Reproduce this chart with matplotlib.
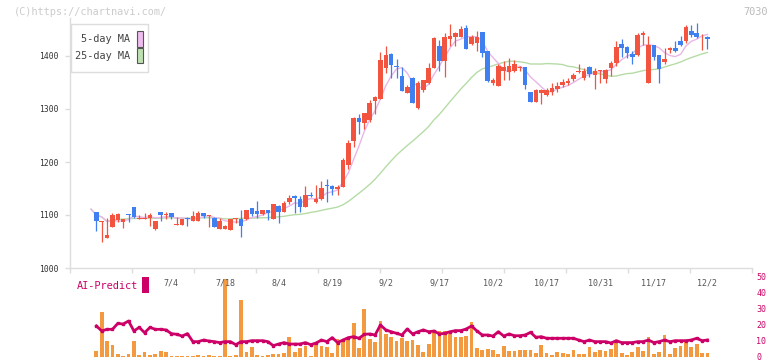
import numpy as np
import pandas as pd
import matplotlib
matplotlib.use("Agg")
import matplotlib.pyplot as plt
from matplotlib.patches import Rectangle

# ---- data (daily candles, 6/13 .. 12/2) ----
opens = [1111, 1106, 1086, 1057, 1078, 1091, 1087, 1101, 1115, 1093,
         1093, 1094, 1074, 1106, 1100, 1104, 1082, 1082, 1095, 1089,
         1089, 1104, 1098, 1095, 1073, 1073, 1072, 1093, 1093, 1092,
         1113, 1107, 1102, 1109, 1093, 1117, 1106, 1124, 1136, 1131,
         1116, 1138, 1125, 1131, 1157, 1155, 1150, 1153, 1194, 1240,
         1283, 1273, 1279, 1315, 1319, 1377, 1404, 1381, 1363, 1331,
         1358, 1302, 1335, 1349, 1377, 1419, 1390, 1432, 1436, 1436,
         1453, 1422, 1425, 1445, 1409, 1349, 1343, 1372, 1369, 1371,
         1377, 1379, 1332, 1313, 1330, 1326, 1332, 1338, 1346, 1349,
         1357, 1370, 1358, 1380, 1364, 1372, 1357, 1377, 1387, 1423,
         1417, 1404, 1402, 1440, 1349, 1420, 1401, 1389, 1412, 1415,
         1429, 1428, 1448, 1443, 1439, 1436]
highs = [1111, 1106, 1089, 1095, 1103, 1104, 1093, 1101, 1115, 1100,
         1104, 1103, 1089, 1106, 1106, 1104, 1097, 1093, 1096, 1107,
         1108, 1104, 1100, 1096, 1094, 1081, 1093, 1095, 1109, 1110,
         1113, 1126, 1110, 1110, 1120, 1118, 1126, 1138, 1137, 1135,
         1155, 1143, 1157, 1165, 1168, 1157, 1157, 1207, 1241, 1285,
         1290, 1292, 1317, 1325, 1408, 1418, 1406, 1394, 1380, 1345,
         1360, 1352, 1355, 1387, 1436, 1431, 1443, 1460, 1446, 1457,
         1458, 1440, 1447, 1446, 1410, 1358, 1384, 1390, 1396, 1393,
         1382, 1380, 1333, 1337, 1338, 1339, 1349, 1351, 1357, 1359,
         1368, 1385, 1377, 1381, 1377, 1374, 1375, 1390, 1428, 1432,
         1418, 1409, 1443, 1447, 1438, 1421, 1402, 1416, 1417, 1428,
         1437, 1459, 1459, 1462, 1441, 1437]
lows = [1111, 1070, 1050, 1057, 1078, 1087, 1076, 1087, 1094, 1092,
        1092, 1079, 1071, 1089, 1092, 1092, 1082, 1082, 1080, 1089,
        1088, 1094, 1078, 1077, 1073, 1073, 1072, 1084, 1059, 1090,
        1098, 1095, 1100, 1090, 1093, 1084, 1106, 1121, 1104, 1106,
        1116, 1134, 1122, 1128, 1125, 1138, 1137, 1153, 1186, 1229,
        1252, 1263, 1276, 1290, 1319, 1367, 1359, 1359, 1334, 1331,
        1311, 1300, 1333, 1347, 1377, 1372, 1360, 1418, 1418, 1436,
        1413, 1420, 1409, 1399, 1350, 1346, 1343, 1355, 1355, 1370,
        1372, 1338, 1313, 1313, 1309, 1325, 1327, 1333, 1342, 1346,
        1352, 1368, 1355, 1360, 1338, 1349, 1349, 1362, 1382, 1398,
        1396, 1385, 1400, 1420, 1349, 1392, 1349, 1384, 1406, 1407,
        1418, 1424, 1436, 1434, 1412, 1414]
closes = [1111, 1089, 1089, 1062, 1100, 1102, 1092, 1100, 1096, 1094,
          1094, 1100, 1089, 1100, 1101, 1096, 1083, 1092, 1093, 1098,
          1103, 1099, 1099, 1078, 1089, 1080, 1092, 1094, 1079, 1109,
          1102, 1101, 1109, 1103, 1120, 1106, 1123, 1132, 1133, 1116,
          1138, 1135, 1130, 1151, 1154, 1149, 1153, 1204, 1236, 1283,
          1276, 1292, 1312, 1322, 1392, 1402, 1383, 1379, 1334, 1341,
          1312, 1349, 1355, 1377, 1434, 1390, 1436, 1438, 1444, 1451,
          1414, 1436, 1436, 1406, 1352, 1355, 1381, 1379, 1381, 1384,
          1379, 1345, 1313, 1336, 1336, 1336, 1340, 1343, 1350, 1353,
          1364, 1371, 1371, 1366, 1371, 1373, 1374, 1386, 1417, 1415,
          1406, 1398, 1440, 1443, 1420, 1398, 1376, 1395, 1416, 1409,
          1420, 1455, 1439, 1436, 1440, 1433]

volume = [0, 4, 28, 10, 7.5, 1.9, 0.6, 1.9, 10, 1.3,
          3.1, 1.3, 1.9, 3.8, 3.1, 0.6, 0.5, 0.5, 0.5, 0.6,
          1.3, 0.5, 1.3, 0.5, 0.6, 49, 0.6, 1.3, 35.6, 3.1,
          6.3, 1.3, 0.6, 1.3, 1.9, 1.9, 2.5, 12.5, 3.1, 5.6,
          6.9, 0.6, 7.2, 6.9, 6.3, 2.5, 11.3, 10, 10.6, 21.5,
          5.6, 30, 11.3, 9.4, 22.5, 14.4, 12.5, 10, 11.9, 10,
          10.6, 7.5, 3.1, 8.1, 16.3, 16.3, 16.3, 14.4, 12.5, 12.5,
          13.1, 21.9, 5.6, 4.4, 5, 4.4, 1.9, 6.9, 3.8, 3.8,
          4.4, 4.4, 4.4, 2.5, 7.5, 2.5, 1.3, 3.1, 2.6, 1.9,
          4.4, 1.9, 1.9, 6.3, 3.1, 4.4, 3.8, 5, 8.8, 2.5,
          1.3, 3.1, 6.3, 3.8, 12.5, 1.9, 3.1, 13.8, 1.9, 5.6,
          6.9, 10, 6.3, 8.1, 2.5, 2.5]

ai_predict = [np.nan, 19.4, 16.3, 17.3, 17.3, 21, 20.6, 22.5, 16.3, 18.5,
              15.2, 18.5, 17.3, 17.3, 16.9, 14.6, 14.2, 13.1, 14.6, 9.6,
              9.6, 10.6, 10, 9.6, 9, 9.6, 9.6, 7.7, 9.6, 9.6,
              10.2, 10.2, 10.2, 9.6, 7.1, 8.1, 9, 8.1, 8.1, 8.1,
              9, 7.7, 8.75, 10.6, 9.6, 12.1, 9, 10.6, 12.1, 12.7,
              11.7, 14.2, 14.4, 13.75, 20, 16.9, 15.8, 14.8, 13.75, 17.5,
              14.4, 15.8, 16.9, 15.8, 16.25, 14.4, 14.8, 15.8, 16.5, 16.5,
              17.5, 19.4, 16.25, 13.75, 13.75, 13.1, 15.8, 13.1, 14.4, 13.3,
              13.3, 13.75, 15.4, 12.3, 12.7, 11.7, 11.7, 11.7, 11.7, 11.7,
              11.7, 10.6, 9.6, 10.6, 9.6, 9.6, 9.6, 8.75, 10.2, 9,
              9, 9, 9.6, 9.6, 10.6, 9, 9.6, 10.6, 9.6, 10.2,
              10.2, 10.2, 10.6, 11.7, 10.2, 10.6]

date_idx = [15, 25, 35, 45, 55, 65, 75, 85, 95, 105, 115]
date_labels = ["7/4", "7/18", "8/4", "8/19", "9/2", "9/17",
               "10/2", "10/17", "10/31", "11/17", "12/2"]
price_ticks = [1000, 1100, 1200, 1300, 1400]
ai_ticks = [0, 10, 20, 30, 40, 50]

# ---- styling ----
W, H = 772, 361
RED = '#f25440'
BLUE = '#3f7ff0'
ORANGE = '#f39a40'
MAGENTA = '#cc0066'
MA5_C = '#e8b6e8'
MA25_C = '#b6dca6'
GRID = '#dddddd'
MONO = 'DejaVu Sans Mono'

o = np.array(opens, float)
h = np.array(highs, float)
l = np.array(lows, float)
c = np.array(closes, float)
x = np.arange(len(c))
ma5 = pd.Series(c).rolling(5, min_periods=1).mean()
ma25 = pd.Series(c).rolling(25, min_periods=1).mean()

def fx(px):
    return px / W

def fy(py):
    return 1 - py / H

fig = plt.figure(figsize=(W / 100, H / 100), dpi=100, facecolor='white')

# main price chart
ax = fig.add_axes([fx(70), fy(268), 682 / W, 250 / H])
xlim = ((70 - 91) / 5.36, (752 - 91) / 5.36)
ax.set_xlim(*xlim)
ax.set_ylim(1000, 1000 + 250 / 0.53)

ax.plot(x, ma25, color=MA25_C, lw=1.0, zorder=1)
ax.plot(x, ma5, color=MA5_C, lw=1.0, zorder=1)

up = c >= o
cols = np.where(up, RED, BLUE)
ax.vlines(x, l, h, colors=cols, lw=0.9, zorder=2)
body = np.maximum(np.abs(c - o), 1.2)
ax.bar(x, body, bottom=np.minimum(o, c), width=0.85, color=cols, zorder=3)

for s in ['top', 'right']:
    ax.spines[s].set_visible(False)
for s in ['left', 'bottom']:
    ax.spines[s].set_color(GRID)
    ax.spines[s].set_linewidth(1.0)
ax.set_yticks(price_ticks)
ax.set_yticklabels([str(v) for v in price_ticks], fontsize=5.8, color='#333333', family=MONO)
ax.set_xticks(np.linspace(xlim[0], xlim[1], 12))
ax.set_xticklabels([])
ax.tick_params(axis='y', length=3.6, width=1, color=GRID, pad=4.3)
ax.tick_params(axis='x', length=3.6, width=1, color=GRID)

# legend box
fig.add_artist(Rectangle((fx(70.7), fy(71.7)), 77.6 / W, 47.7 / H, transform=fig.transFigure,
                         facecolor='white', edgecolor=GRID, lw=1, zorder=10))
fig.add_artist(Rectangle((fx(136.7), fy(46.7)), 6 / W, 15.7 / H, transform=fig.transFigure,
                         facecolor='#eebcee', edgecolor='#555555', lw=0.8, zorder=11))
fig.add_artist(Rectangle((fx(136.7), fy(63.3)), 6 / W, 15 / H, transform=fig.transFigure,
                         facecolor='#bfe0b2', edgecolor='#555555', lw=0.8, zorder=11))
fig.text(fx(130), fy(39), "5-day MA", ha='right', va='center', fontsize=7.4,
         family=MONO, color='#444444', zorder=12)
fig.text(fx(130), fy(56), "25-day MA", ha='right', va='center', fontsize=7.4,
         family=MONO, color='#444444', zorder=12)

# volume + AI-Predict panel
ax2 = fig.add_axes([fx(70), fy(357), 682 / W, 80 / H])
ax2.set_xlim(*xlim)
ax2.set_ylim(0, 50)
ax2.patch.set_alpha(0)
ax2.bar(x, volume, width=0.7, color=ORANGE, zorder=1)
ax2.plot(x, ai_predict, color=MAGENTA, lw=2.0, marker='s', ms=1.6, zorder=2)
for s in ax2.spines.values():
    s.set_visible(False)
ax2.set_xticks([])
ax2.yaxis.tick_right()
ax2.set_yticks(ai_ticks)
ax2.set_yticklabels([str(v) for v in ai_ticks], fontsize=6, color=MAGENTA, family=MONO)
ax2.tick_params(axis='y', length=0, pad=3)

for i, lab in zip(date_idx, date_labels):
    ax2.text(i, (357 - 283) / 80, lab, transform=ax2.get_xaxis_transform(),
             ha='center', va='center', fontsize=6, family=MONO, color='#555555')

fig.text(fx(77), fy(286), "AI-Predict", ha='left', va='center', fontsize=7.4,
         family=MONO, color=MAGENTA)
fig.add_artist(Rectangle((fx(142), fy(292.7)), 6.7 / W, 16 / H, transform=fig.transFigure,
                         facecolor=MAGENTA, edgecolor='none'))

# watermark and code
fig.text(fx(14), fy(12), "(C)https://chartnavi.com/", ha='left', va='center',
         fontsize=7.4, family=MONO, color='#cccccc')
fig.text(fx(768), fy(12), "7030", ha='right', va='center', fontsize=7.4,
         family=MONO, color='#bbbbbb')

fig.savefig("out.png", dpi=100)
